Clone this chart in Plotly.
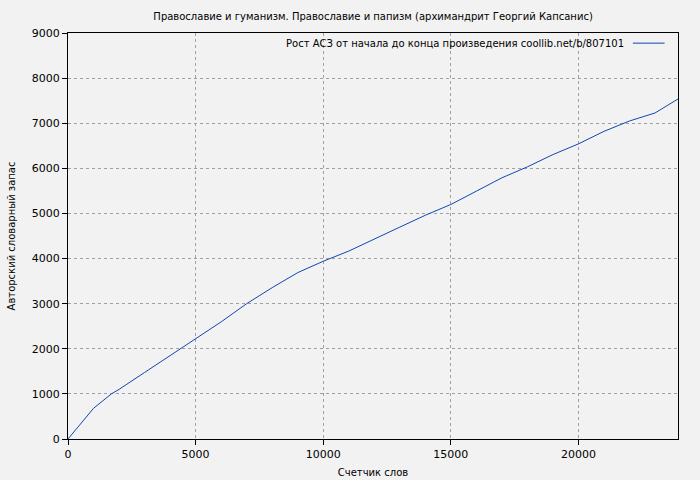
import plotly.graph_objects as go

title = "Православие и гуманизм. Православие и папизм (архимандрит Георгий Капсанис)"
series_name = "Рост АСЗ от начала до конца произведения coollib.net/b/807101"
x_label = "Счетчик слов"
y_label = "Авторский словарный запас"

words = [0, 500, 1000, 1700, 2000, 3000, 4000, 5000, 6000, 7000, 8000, 9000,
         10000, 11000, 12000, 13000, 14000, 15000, 16000, 17000, 18000,
         19000, 20000, 21000, 22000, 23000, 23900]
vocab = [0, 340, 680, 1000, 1100, 1475, 1843, 2212, 2596, 3000, 3355, 3688,
         3940, 4166, 4440, 4697, 4960, 5199, 5494, 5790, 6033,
         6305, 6542, 6820, 7050, 7227, 7537]
x_ticks = [0, 5000, 10000, 15000, 20000]
y_ticks = [0, 1000, 2000, 3000, 4000, 5000, 6000, 7000, 8000, 9000]

font = "DejaVu Sans"
fig = go.Figure()
fig.add_trace(go.Scatter(x=words, y=vocab, mode="lines", name=series_name,
                         line=dict(color="#1048b0", width=1), showlegend=False))

fig.add_annotation(text=series_name, xref="paper", yref="paper", x=0.915, y=0.975,
                   xanchor="right", yanchor="middle", showarrow=False,
                   font=dict(family=font, size=10, color="#000"))
fig.add_shape(type="line", xref="paper", yref="paper", x0=0.926, x1=0.978, y0=0.975, y1=0.975,
              line=dict(color="#1048b0", width=1))

fig.update_layout(
    width=700, height=480,
    paper_bgcolor="#f2f2f2", plot_bgcolor="#f2f2f2",
    margin=dict(l=68, r=22, t=33, b=41),
    title=dict(text=title, x=0.533, xanchor="center", y=0.966, yanchor="middle",
               font=dict(family=font, size=10, color="#000")),
    font=dict(family=font, size=11, color="#000"),
    xaxis=dict(range=[0, 23900], tickvals=x_ticks, ticktext=[str(v) for v in x_ticks],
               showgrid=True, gridcolor="#a0a0a0", griddash="dot", gridwidth=1,
               showline=True, linecolor="#000", linewidth=1, mirror=True, automargin=False,
               ticks="outside", ticklen=5, tickcolor="#000", zeroline=False,
               title=dict(text=x_label, standoff=8, font=dict(family=font, size=10))),
    yaxis=dict(range=[0, 9000], tickvals=y_ticks, ticktext=[str(v) for v in y_ticks],
               showgrid=True, gridcolor="#a0a0a0", griddash="dot", gridwidth=1,
               showline=True, linecolor="#000", linewidth=1, mirror=True, automargin=False,
               ticks="outside", ticklen=5, tickcolor="#000", zeroline=False,
               title=dict(text=y_label, standoff=14, font=dict(family=font, size=10))),
)
fig.write_html("out.html", config={"displayModeBar": False},
               post_script="document.body.style.margin='0';document.body.style.background='#f2f2f2';")
